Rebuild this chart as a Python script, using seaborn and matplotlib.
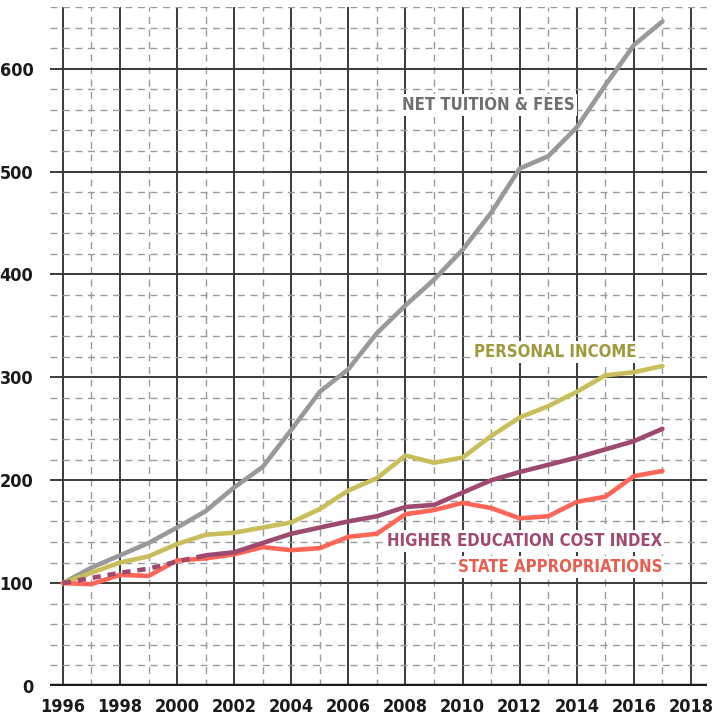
import numpy as np
import pandas as pd
import seaborn as sns
import matplotlib.pyplot as plt

years = list(range(1996, 2018))
net_tuition = [100, 115, 127, 139, 154, 170, 193, 213, 249, 286, 308, 343, 370, 395, 424, 460,
               503, 515, 543, 584, 623, 646]
personal_income = [100, 110, 120, 126, 138, 147, 149, 154, 159, 172, 190, 202, 224, 217, 222, 243,
                   261, 272, 286, 302, 305, 311]
heci = [100, 105, 110, 114, 121, 127, 130, 139, 148, 154, 160, 165, 174, 176, 188, 200,
        208, 215, 222, 230, 238, 250]
state_approp = [100, 99, 108, 107, 122, 124, 128, 135, 132, 134, 145, 148, 167, 171, 178, 173,
                163, 165, 179, 184, 204, 209]

x_ticks = list(range(1996, 2019, 2))
y_ticks = list(range(0, 601, 100))

df = pd.DataFrame({"year": years, "net": net_tuition, "income": personal_income,
                   "heci": heci, "state": state_approp})

sns.set_style("white")
plt.rcParams["font.family"] = ["DejaVu Sans"]
plt.rcParams["font.stretch"] = "condensed"

fig = plt.figure(figsize=(7.23, 7.17), dpi=100)
ax = fig.add_axes([50 / 723, 1 - 686 / 717, 657 / 723, 679 / 717])

# grid: solid every 2 years / 100, dashed in between
for yr in range(1996, 2019):
    if yr % 2 == 0:
        ax.axvline(yr, color="#3a3a3a", lw=1.4, zorder=1)
    else:
        ax.axvline(yr, color="#9a9a9a", lw=1.0, ls=(0, (5, 4)), zorder=1)
for v in range(20, 661, 20):
    if v % 100 == 0:
        ax.axhline(v, color="#3a3a3a", lw=1.4, zorder=1)
    else:
        ax.axhline(v, color="#9a9a9a", lw=1.0, ls=(0, (5, 4)), zorder=1)
ax.axhline(0, color="#1a1a1a", lw=3.2, zorder=2)

lw = 3.3
sns.lineplot(data=df, x="year", y="net", color="#999999", lw=lw, ax=ax, zorder=3)
sns.lineplot(data=df, x="year", y="income", color="#c8be5c", lw=lw, ax=ax, zorder=3)
sns.lineplot(data=df, x="year", y="state", color="#ff6658", lw=lw, ax=ax, zorder=3)
# HECI is dashed until 2001
early = df[df.year <= 2001]
late = df[df.year >= 2001]
sns.lineplot(data=early, x="year", y="heci", color="#9c4a70", lw=lw, ax=ax, zorder=4,
             linestyle=(0, (1.8, 1.5)))
sns.lineplot(data=late, x="year", y="heci", color="#9c4a70", lw=lw, ax=ax, zorder=4)

box = dict(facecolor="white", edgecolor="none", pad=1.5)
lab = dict(fontsize=12, fontweight="bold", zorder=5, bbox=box, va="center")
ax.text(2010.9, 565, "NET TUITION & FEES", color="#707070", ha="center", **lab)
ax.text(2013.25, 325, "PERSONAL INCOME", color="#9e9a3c", ha="center", **lab)
ax.text(2017.0, 141, "HIGHER EDUCATION COST INDEX", color="#a04a72", ha="right", **lab)
ax.text(2017.0, 116, "STATE APPROPRIATIONS", color="#e85e50", ha="right", **lab)

ax.set_xlim(1995.55, 2018.56)
ax.set_ylim(0, 660)
ax.set_xticks(x_ticks)
ax.set_yticks(y_ticks)
ax.tick_params(length=0, labelsize=13)
ax.tick_params(axis="y", pad=12)
ax.tick_params(axis="x", pad=9)
for t in ax.get_xticklabels() + ax.get_yticklabels():
    t.set_fontweight("bold")
    t.set_color("#1a1a1a")
ax.set_xlabel("")
ax.set_ylabel("")
for s in ax.spines.values():
    s.set_visible(False)

fig.savefig("out.png", dpi=100)
